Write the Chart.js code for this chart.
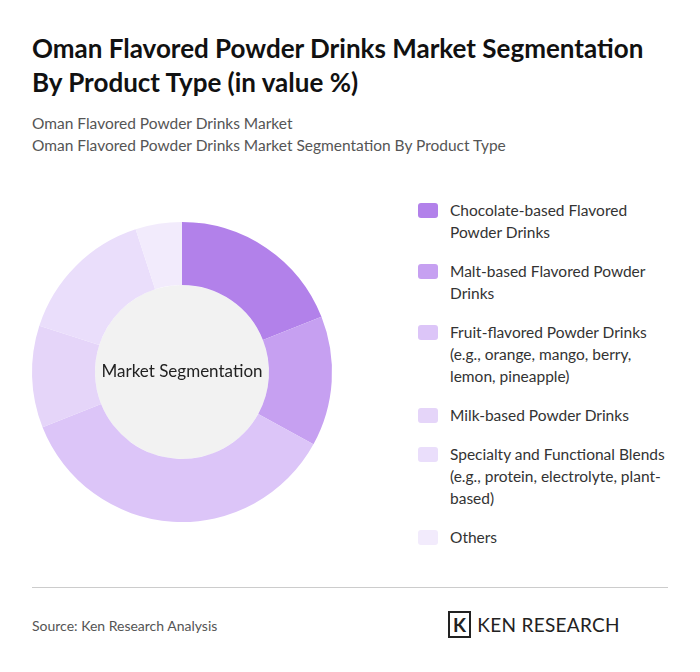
<!DOCTYPE html><html><head><meta charset="utf-8">
<script src="https://cdn.jsdelivr.net/npm/chart.js@4"></script>
<style>
body{margin:0;width:700px;height:672px;background:#fff;font-family:Lato,"Open Sans",sans-serif;position:relative;overflow:hidden}
h1{position:absolute;left:32px;top:31px;margin:0;font-size:26px;line-height:34px;font-weight:700;color:#111;width:630px}
.sub{position:absolute;left:32px;top:112px;font-size:15.5px;line-height:22px;color:#555}
#wrap{position:absolute;left:22px;top:212px;width:320px;height:320px}
.leg{position:absolute;left:418px;top:199px;width:258px}
.it{display:flex;margin-bottom:17px;font-size:15.5px;line-height:22px;color:#333}
.sw{width:20px;height:15px;border-radius:3px;flex:none;margin:4px 12px 0 0}
.hr{position:absolute;left:32px;top:587px;width:636px;border-top:1px solid #ccc}
.src{position:absolute;left:32px;top:617px;font-size:14px;color:#555}
.logo{position:absolute;left:448px;top:613px;font-size:19px;font-weight:400;color:#222;letter-spacing:0.3px}
</style></head><body>
<h1>Oman Flavored Powder Drinks Market Segmentation By Product Type (in value %)</h1>
<div class="sub">Oman Flavored Powder Drinks Market<br>Oman Flavored Powder Drinks Market Segmentation By Product Type</div>
<div id="wrap"><canvas id="c"></canvas></div>
<div class="leg" id="leg"></div>
<div class="hr"></div>
<div class="src">Source: Ken Research Analysis</div>
<div class="logo"><span style="border:2px solid #222;padding:0 3px;margin-right:6px;font-weight:700">K</span>KEN RESEARCH</div>
<script>
const categories=["Chocolate-based Flavored Powder Drinks","Malt-based Flavored Powder Drinks","Fruit-flavored Powder Drinks (e.g., orange, mango, berry, lemon, pineapple)","Milk-based Powder Drinks","Specialty and Functional Blends (e.g., protein, electrolyte, plant-based)","Others"];
const values=[19,14,36,11,15,5];
const colors=["#b281ea","#c6a0f1","#dcc5f8","#e5d5f9","#eadefb","#f2ebfc"];
document.getElementById('leg').innerHTML=categories.map((c,i)=>`<div class="it"><div class="sw" style="background:${colors[i]}"></div><div>${c}</div></div>`).join('');
const centerPlugin={id:'ctr',beforeDatasetsDraw(ch){const m=ch.getDatasetMeta(0).data[0];if(!m)return;const x=ch.ctx;x.save();x.beginPath();x.arc(m.x,m.y,m.innerRadius,0,Math.PI*2);x.fillStyle='#f2f2f2';x.fill();x.fillStyle='#222';x.font='17px Lato';x.textAlign='center';x.textBaseline='middle';x.fillText('Market Segmentation',m.x,m.y);x.restore();}};
new Chart(document.getElementById('c'),{type:'doughnut',data:{labels:categories,datasets:[{data:values,backgroundColor:colors,borderWidth:0}]},options:{responsive:true,maintainAspectRatio:false,cutout:'58%',animation:false,layout:{padding:10},plugins:{legend:{display:false},tooltip:{enabled:false}}},plugins:[centerPlugin]});
</script></body></html>
